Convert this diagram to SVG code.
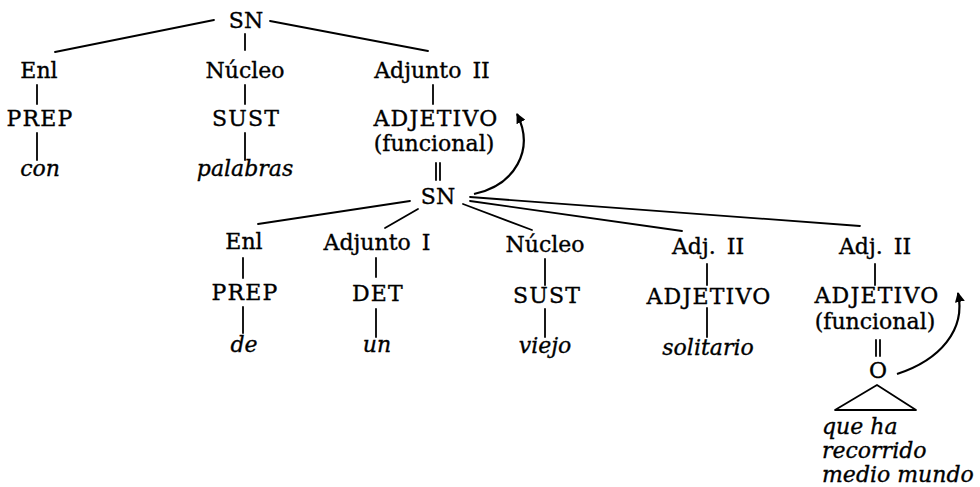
<svg xmlns="http://www.w3.org/2000/svg" width="980" height="487" viewBox="0 0 980 487">
<defs>
<style>
text{font-family:"DejaVu Serif","Liberation Serif",serif;font-size:22px;fill:#000;stroke:#000;stroke-width:0.35;text-anchor:middle}
.it{font-style:italic}
.l{text-anchor:start}
.cap{letter-spacing:1.2px}
.ws{word-spacing:4px}
.c{stroke:#000;stroke-width:1.8;fill:none;stroke-linecap:round}
.a{stroke:#000;stroke-width:2.2;fill:none}
</style>
<marker id="ah" viewBox="0 0 10 10" refX="9" refY="5" markerWidth="10" markerHeight="10" markerUnits="userSpaceOnUse" orient="auto">
<path d="M0,0 L10,5 L0,10 z" fill="#000"/>
</marker>
</defs>
<rect width="980" height="487" fill="#fff"/>
<g id="connectors">
<line class="c" x1="214" y1="20" x2="55" y2="52"/>
<line class="c" x1="270" y1="21" x2="428" y2="51"/>
<line class="c" x1="245" y1="34" x2="245" y2="50"/>
<line class="c" x1="37" y1="85" x2="37" y2="104"/>
<line class="c" x1="37" y1="133" x2="37" y2="160"/>
<line class="c" x1="245" y1="85" x2="245" y2="104"/>
<line class="c" x1="245" y1="133" x2="245" y2="160"/>
<line class="c" x1="433" y1="85" x2="433" y2="104"/>
<line class="c" x1="436" y1="163" x2="436" y2="180"/>
<line class="c" x1="440" y1="163" x2="440" y2="180"/>
<path class="a" d="M474,194 C515,185 535,150 517,114" marker-end="url(#ah)"/>
<line class="c" x1="410" y1="201" x2="258" y2="224"/>
<line class="c" x1="418" y1="209" x2="385" y2="228"/>
<line class="c" x1="463" y1="204" x2="532" y2="230"/>
<line class="c" x1="470" y1="201" x2="682" y2="231"/>
<line class="c" x1="470" y1="197" x2="860" y2="226"/>
<line class="c" x1="243" y1="258" x2="243" y2="278"/>
<line class="c" x1="243" y1="307" x2="243" y2="333"/>
<line class="c" x1="376" y1="258" x2="376" y2="277"/>
<line class="c" x1="376" y1="309" x2="376" y2="337"/>
<line class="c" x1="545" y1="259" x2="545" y2="285"/>
<line class="c" x1="545" y1="309" x2="545" y2="337"/>
<line class="c" x1="707" y1="264" x2="707" y2="285"/>
<line class="c" x1="707" y1="308" x2="707" y2="337"/>
<line class="c" x1="875" y1="264" x2="875" y2="285"/>
<line class="c" x1="876" y1="340" x2="876" y2="356"/>
<line class="c" x1="880" y1="340" x2="880" y2="356"/>
<path class="a" d="M897,374 C940,360 966,330 958,293" marker-end="url(#ah)"/>
</g>
<g id="sn-top"><text x="246" y="28">SN</text></g>
<g id="enl-1"><text x="39" y="78">Enl</text></g>
<g id="nucleo-1"><text x="245" y="78">Núcleo</text></g>
<g id="adjunto-ii-1"><text class="ws" x="432" y="78">Adjunto II</text></g>
<g id="prep-1"><text class="cap" x="40" y="126">PREP</text></g>
<g id="sust-1"><text class="cap" x="246" y="126">SUST</text></g>
<g id="adjetivo-1"><text class="cap" x="436" y="126">ADJETIVO</text><text x="434" y="151">(funcional)</text></g>
<g id="con"><text class="it" x="40" y="176">con</text></g>
<g id="palabras"><text class="it" x="245" y="176">palabras</text></g>
<g id="sn-2"><text x="438" y="204">SN</text></g>
<g id="enl-2"><text x="244" y="249">Enl</text></g>
<g id="adjunto-i"><text class="ws" x="377" y="250">Adjunto I</text></g>
<g id="nucleo-2"><text x="545" y="252">Núcleo</text></g>
<g id="adj-ii-a"><text class="ws" x="708" y="254">Adj. II</text></g>
<g id="adj-ii-b"><text class="ws" x="875" y="254">Adj. II</text></g>
<g id="prep-2"><text class="cap" x="245" y="300">PREP</text></g>
<g id="det"><text class="cap" x="378" y="301">DET</text></g>
<g id="sust-2"><text class="cap" x="547" y="303">SUST</text></g>
<g id="adjetivo-2"><text class="cap" x="709" y="304">ADJETIVO</text></g>
<g id="adjetivo-3"><text class="cap" x="877" y="303">ADJETIVO</text><text x="875" y="329">(funcional)</text></g>
<g id="de"><text class="it" x="244" y="352">de</text></g>
<g id="un"><text class="it" x="377" y="352">un</text></g>
<g id="viejo"><text class="it" x="545" y="353">viejo</text></g>
<g id="solitario"><text class="it" x="708" y="355">solitario</text></g>
<g id="o-node"><text x="878" y="378">O</text><path class="c" d="M877,385 L835,410 L916,410 Z" stroke-linejoin="round"/></g>
<g id="clause"><text class="it l" x="822" y="434">que ha</text><text class="it l" x="822" y="458">recorrido</text><text class="it l" x="822" y="482">medio mundo</text></g>
</svg>
